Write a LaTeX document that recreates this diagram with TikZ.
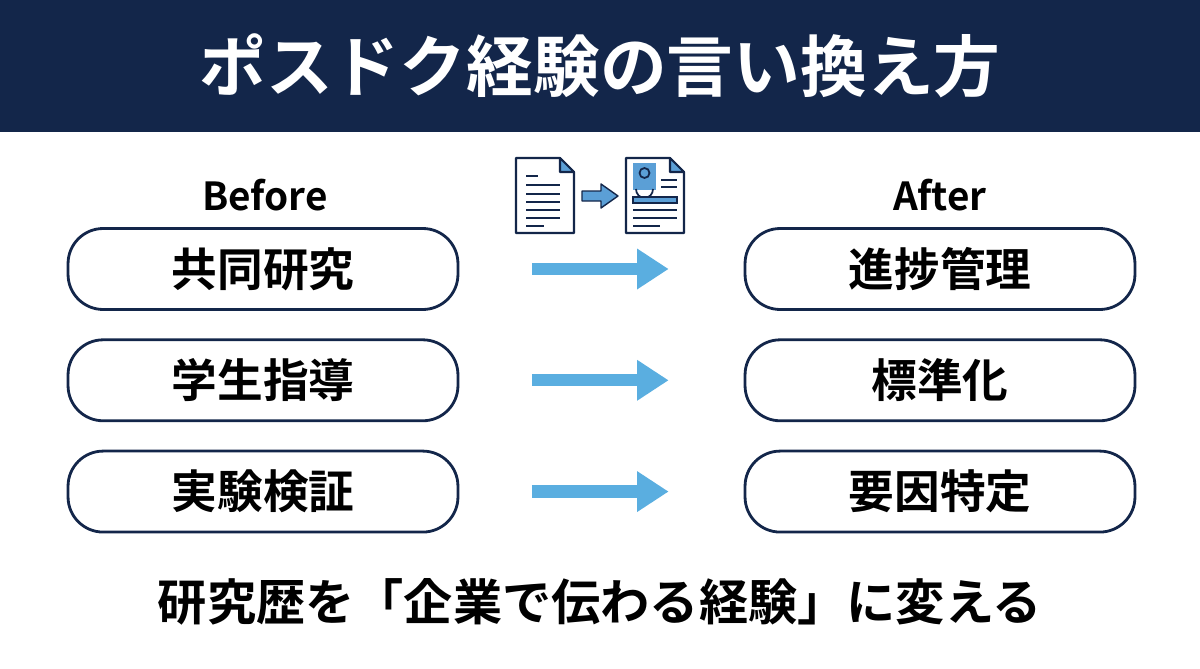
\documentclass[tikz,border=0pt]{standalone}
\usepackage{fontspec}
\setmainfont{Noto Sans CJK JP}[BoldFont={* Bold}]
\usetikzlibrary{positioning,arrows.meta}
\definecolor{navy}{HTML}{13264A}
\definecolor{skyblue}{HTML}{5AAEE0}
\definecolor{iconblue}{HTML}{5B9FD6}
\tikzset{
  item/.style={draw=navy, line width=1.6pt, rounded corners=20pt, minimum width=7.8cm, minimum height=1.62cm, font=\bfseries\fontsize{26}{30}\selectfont, text=black},
  head/.style={font=\bfseries\fontsize{22}{26}\selectfont},
  flow/.style={draw=skyblue, line width=7pt, -{Triangle[length=18pt,width=22pt]}},
  doc/.style={draw=navy, line width=1.2pt, fill=white, line join=round},
  ln/.style={draw=navy, line width=1pt}
}
\begin{document}
\begin{tikzpicture}[x=0.02cm,y=-0.02cm]
\useasboundingbox (0,0) rectangle (1200,669);
% title bar
\fill[navy] (0,0) rectangle (1200,132);
\node[text=white, font=\bfseries\fontsize{38}{42}\selectfont] (title) at (600,66) {ポスドク経験の言い換え方};
% headings
\node[head] (before) at (265,195) {Before};
\node[head] (after) at (940,195) {After};
% boxes
\node[item] (b1) at (263,269) {共同研究};
\node[item, below=0.55cm of b1] (b2) {学生指導};
\node[item, below=0.55cm of b2] (b3) {実験検証};
\node[item] (a1) at (940,269) {進捗管理};
\node[item, below=0.55cm of a1] (a2) {標準化};
\node[item, below=0.55cm of a2] (a3) {要因特定};
% arrows
\foreach \i in {1,2,3}{
  \coordinate (s\i) at ([xshift=1.45cm]b\i.east);
  \coordinate (t\i) at ([xshift=-1.5cm]a\i.west);
  \draw[flow] (s\i) -- (t\i);
}
% icon: plain page
\draw[doc] (516,158) -- (560,158) -- (574,172) -- (574,233) -- (516,233) -- cycle;
\filldraw[doc, fill=iconblue] (560,158) -- (574,172) -- (560,172) -- cycle;
\foreach \y/\e in {176/538,185/560,194/560,202/560,210/560,218/560,226/544}
  \draw[ln] (526,\y) -- (\e,\y);
% icon: arrow
\filldraw[draw=navy, fill=iconblue, line width=0.8pt, line join=round]
  (582,191) -- (601,191) -- (601,184) -- (618,196) -- (601,208) -- (601,201) -- (582,201) -- cycle;
% icon: profile page
\draw[doc] (626,158) -- (670,158) -- (684,172) -- (684,233) -- (626,233) -- cycle;
\filldraw[doc, fill=iconblue] (670,158) -- (684,172) -- (670,172) -- cycle;
\fill[iconblue] (633,163) rectangle (656,190);
\draw[navy, line width=1pt] (644.5,173) circle (5);
\draw[navy, line width=1pt] (636,189) arc (180:0:8.5 and 9);
\draw[ln] (661,180) -- (677,180);
\draw[ln] (661,187) -- (677,187);
\fill[iconblue, draw=navy, line width=0.8pt] (633,197) rectangle (677,203);
\foreach \y/\e in {210/677,218/677,226/660}
  \draw[ln] (633,\y) -- (\e,\y);
% tagline
\node[font=\bfseries\fontsize{28}{32}\selectfont] (tag) at (600,602) {研究歴を「企業で伝わる経験」に変える};
\end{tikzpicture}
\end{document}
